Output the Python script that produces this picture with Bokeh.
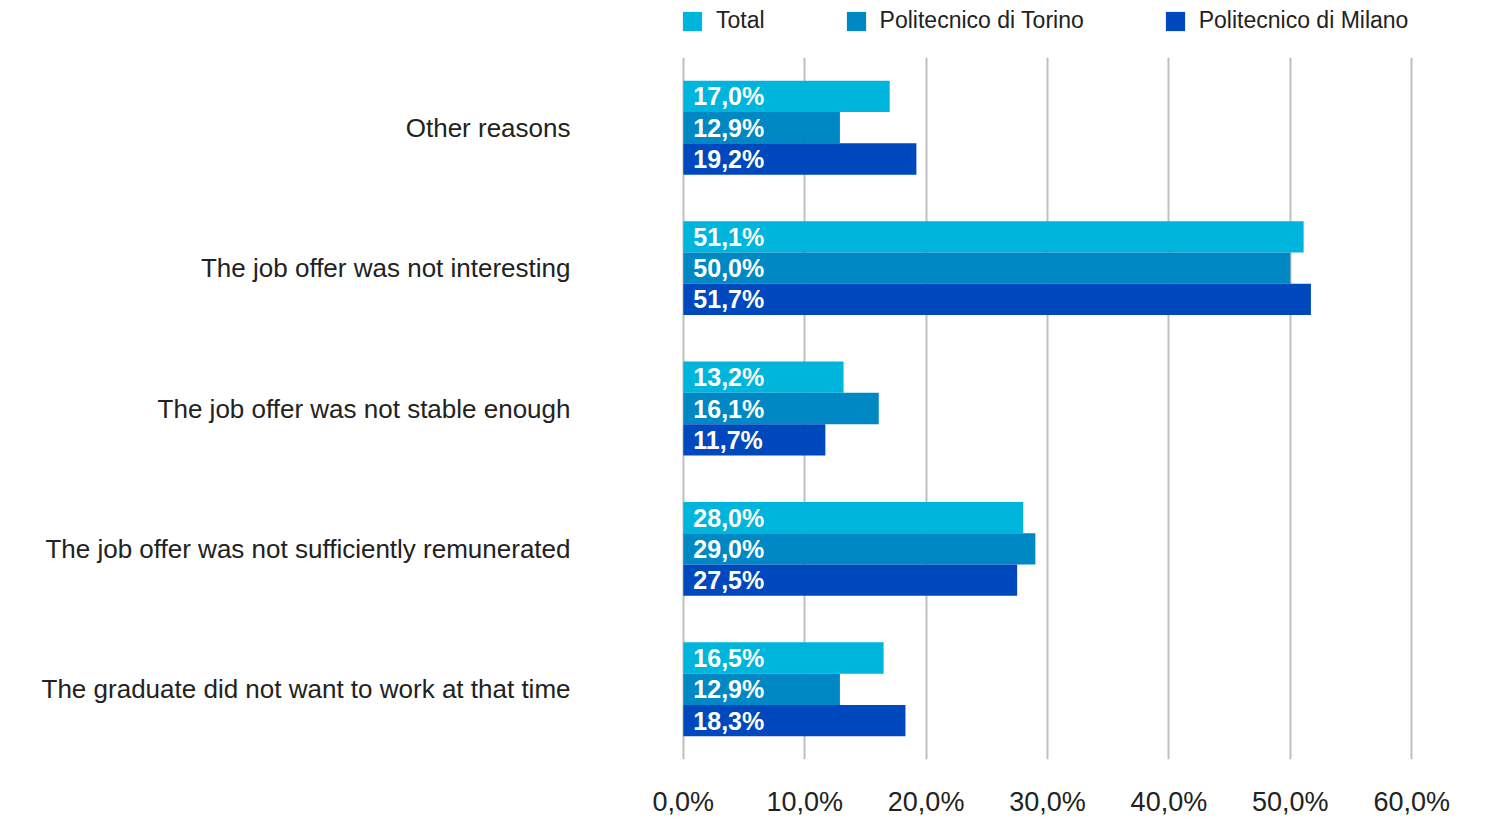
from bokeh.plotting import figure
from bokeh.layouts import column
from bokeh.models import ColumnDataSource, Legend, LegendItem, CustomJSTickFormatter, FixedTicker
from bokeh.transform import dodge
from bokeh.core.properties import value
from bokeh.embed import file_html
from bokeh.resources import INLINE

# Categories listed top to bottom as in the reference
categories = [
    "Other reasons",
    "The job offer was not interesting",
    "The job offer was not stable enough",
    "The job offer was not sufficiently remunerated",
    "The graduate did not want to work at that time",
]
series_names = ["Total", "Politecnico di Torino", "Politecnico di Milano"]
total = [17.0, 51.1, 13.2, 28.0, 16.5]
torino = [12.9, 50.0, 16.1, 29.0, 12.9]
milano = [19.2, 51.7, 11.7, 27.5, 18.3]
x_ticks = [0, 10, 20, 30, 40, 50, 60]

colors = ["#00B5DC", "#0088C5", "#0048BD"]
offsets = [0.223, 0.0, -0.223]
bar_h = 0.223

FONT = "Liberation Sans"
W = 1489
TOP = 57
H = 819 - TOP
BL, BR = 681, 76

# ---- legend strip (top) ----
lg = figure(
    width=W, height=TOP, x_range=(-0.15, 60.15), y_range=(0, 1),
    output_backend="svg", toolbar_location=None,
    x_axis_location=None, y_axis_location=None,
    min_border_left=BL, min_border_right=BR, min_border_top=0, min_border_bottom=0,
)
lg.outline_line_color = None
lg.grid.visible = False
lg_items = []
for name, col in zip(series_names, colors):
    # legend-only swatch renderer, kept outside the visible y range
    r = lg.hbar(y=[-5], right=[0], left=0, height=0.5, fill_color=col, line_color=None)
    lg_items.append(LegendItem(label=name, renderers=[r]))
legend = Legend(
    items=lg_items, orientation="horizontal", location=(-1, 23),
    glyph_width=24, glyph_height=24, label_standoff=12, spacing=79,
    padding=0, margin=0, border_line_color=None, background_fill_alpha=0,
    label_text_font=FONT, label_text_font_size="23px", label_text_color="#222222",
)
lg.add_layout(legend, "center")

# ---- main chart ----
p = figure(
    width=W, height=H,
    y_range=list(reversed(categories)),
    x_range=(-0.15, 60.15),
    output_backend="svg", toolbar_location=None,
    min_border_left=BL, min_border_right=BR,
    min_border_top=0, min_border_bottom=52,
)
p.y_range.range_padding = 0
p.outline_line_color = None
p.background_fill_color = "white"
p.border_fill_color = "white"

for name, vals, col, off in zip(series_names, [total, torino, milano], colors, offsets):
    src = ColumnDataSource(dict(
        cat=categories, val=vals,
        lab=[("%.1f" % v).replace(".", ",") + "%" for v in vals],
    ))
    p.hbar(y=dodge("cat", off, range=p.y_range), right="val", left=0,
           height=bar_h, source=src, fill_color=col, line_color=None)
    p.text(x=0, y=dodge("cat", off, range=p.y_range), text="lab", source=src,
           x_offset=10, text_color="white", text_font=value(FONT),
           text_font_style="bold", text_font_size="25px",
           text_baseline="middle", text_align="left")

p.ygrid.grid_line_color = None
p.xgrid.grid_line_color = "#BFBFBF"
p.xgrid.grid_line_width = 2
p.xaxis.ticker = FixedTicker(ticks=x_ticks)
p.xaxis.formatter = CustomJSTickFormatter(code="return tick.toFixed(1).replace('.', ',') + '%';")
for ax in (p.xaxis, p.yaxis):
    ax.axis_line_color = None
    ax.major_tick_line_color = None
    ax.minor_tick_line_color = None
    ax.major_tick_out = 0
    ax.major_tick_in = 0
    ax.major_label_text_font = FONT
    ax.major_label_text_color = "#222222"
p.xaxis.major_label_text_font_size = "27px"
p.xaxis.major_label_standoff = 27
p.yaxis.major_label_text_font_size = "26px"
p.yaxis.major_label_standoff = 111

layout = column(lg, p, spacing=0)
open("out.html", "w").write(file_html(layout, INLINE))
